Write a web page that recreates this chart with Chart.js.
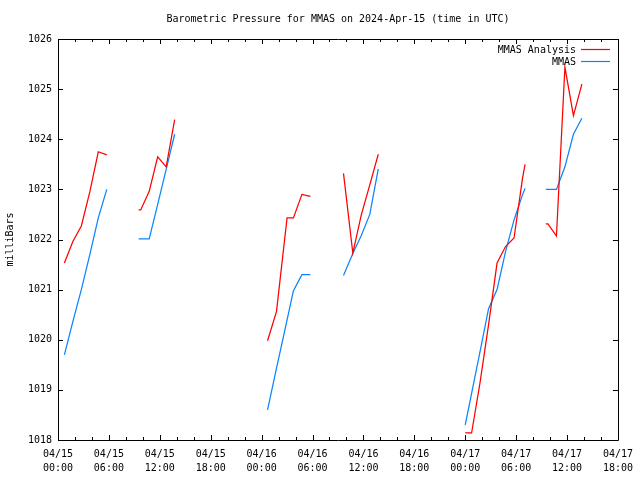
<!DOCTYPE html>
<html>
<head>
<meta charset="utf-8">
<script src="https://cdn.jsdelivr.net/npm/chart.js@4.4.1/dist/chart.umd.min.js"></script>
<style>
  body { margin: 0; background: #fff; }
  #wrap { width: 640px; height: 480px; }
</style>
</head>
<body>
<div id="wrap"><canvas id="chart" width="640" height="480"></canvas></div>
<script>
// labels
const chartTitle = 'Barometric Pressure for MMAS on 2024-Apr-15 (time in UTC)';
const yTitle = 'milliBars';
const tickDays = ['04/15', '04/15', '04/15', '04/15', '04/16', '04/16', '04/16', '04/16', '04/17', '04/17', '04/17', '04/17'];
const tickTimes = ['00:00', '06:00', '12:00', '18:00', '00:00', '06:00', '12:00', '18:00', '00:00', '06:00', '12:00', '18:00'];

// hours since 04/15 00:00 UTC, null value = gap in the record
const analysisHours = [0.75, 1.75, 2.75, 3.75, 4.75, 5.75, 7,
    9.5, 9.75, 10.75, 11.75, 12.75, 13.75, 20,
    24.7, 25.75, 27.0, 27.75, 28.75, 29.75, 32,
    33.65, 34.75, 35.75, 36.75, 37.75, 45,
    48.0, 48.75, 49.75, 50.75, 51.75, 52.75, 53.75, 54.75, 55.05, 56,
    57.5, 57.75, 58.75, 59.75, 60.75, 61.75];
const analysisValues = [1021.53, 1021.96, 1022.27, 1022.95, 1023.75, 1023.69, null,
    1022.59, 1022.59, 1022.96, 1023.65, 1023.45, 1024.39, null,
    1019.98, 1020.56, 1022.43, 1022.43, 1022.90, 1022.86, null,
    1023.32, 1021.73, 1022.49, 1023.09, 1023.70, null,
    1018.14, 1018.14, 1019.15, 1020.30, 1021.53, 1021.86, 1022.03, 1023.22, 1023.50, null,
    1022.31, 1022.31, 1022.07, 1025.44, 1024.47, 1025.10];

const stationHours = [0.75, 1.75, 2.75, 3.75, 4.75, 5.75, 7,
    9.5, 9.75, 10.75, 11.75, 12.75, 13.75, 20,
    24.7, 25.75, 26.75, 27.75, 28.75, 29.75, 32,
    33.65, 34.75, 35.75, 36.75, 37.75, 45,
    48.0, 48.75, 49.75, 50.75, 51.75, 52.75, 53.75, 54.75, 55.05, 56,
    57.5, 57.75, 58.75, 59.75, 60.75, 61.75];
const stationValues = [1019.70, 1020.36, 1021.00, 1021.70, 1022.43, 1023.00, null,
    1022.01, 1022.01, 1022.01, 1022.70, 1023.40, 1024.10, null,
    1018.60, 1019.43, 1020.20, 1020.98, 1021.30, 1021.30, null,
    1021.28, 1021.72, 1022.08, 1022.50, 1023.41, null,
    1018.30, 1018.93, 1019.77, 1020.62, 1021.00, 1021.76, 1022.39, 1022.89, 1023.02, null,
    1023.00, 1023.00, 1023.00, 1023.45, 1024.10, 1024.42];

const FONT = "'DejaVu Sans Mono', 'Liberation Mono', monospace";

function toPoints(hours, values) {
    return hours.map((h, i) => ({ x: h, y: values[i] }));
}

// gnuplot look: frame, inward ticks, centred title, legend at top right
const gnuplotDecor = {
    id: 'gnuplotDecor',
    afterDraw(chart) {
        const ctx = chart.ctx;
        const a = chart.chartArea;
        const xs = chart.scales.x;
        const ys = chart.scales.y;
        ctx.save();
        ctx.strokeStyle = '#000';
        ctx.lineWidth = 1;
        ctx.beginPath();
        ctx.rect(Math.round(a.left) + 0.5, Math.round(a.top) + 0.5,
            Math.round(a.right - a.left), Math.round(a.bottom - a.top));
        xs.ticks.forEach(t => {
            const px = Math.round(xs.getPixelForValue(t.value)) + 0.5;
            const len = t.value % 6 === 0 ? 5 : 3;
            ctx.moveTo(px, a.bottom);
            ctx.lineTo(px, a.bottom - len);
            ctx.moveTo(px, a.top);
            ctx.lineTo(px, a.top + len);
        });
        ys.ticks.forEach(t => {
            const py = Math.round(ys.getPixelForValue(t.value)) + 0.5;
            ctx.moveTo(a.left, py);
            ctx.lineTo(a.left + 5, py);
            ctx.moveTo(a.right, py);
            ctx.lineTo(a.right - 5, py);
        });
        ctx.stroke();

        ctx.fillStyle = '#000';
        ctx.font = '10px ' + FONT;
        ctx.textBaseline = 'middle';
        ctx.textAlign = 'center';
        ctx.fillText(chartTitle, (a.left + a.right) / 2, 19);

        ctx.textAlign = 'right';
        ctx.lineWidth = 1.2;
        chart.data.datasets.forEach((ds, i) => {
            const y = 50 + i * 12;
            ctx.fillStyle = '#000';
            ctx.fillText(ds.label, 576, y);
            ctx.strokeStyle = ds.borderColor;
            ctx.beginPath();
            ctx.moveTo(581, Math.round(y) - 0.5);
            ctx.lineTo(610, Math.round(y) - 0.5);
            ctx.stroke();
        });
        ctx.restore();
    }
};

const ctx = document.getElementById('chart').getContext('2d');
const chart = new Chart(ctx, {
    type: 'line',
    data: {
        datasets: [{
            label: 'MMAS Analysis',
            data: toPoints(analysisHours, analysisValues),
            borderColor: '#ff0000',
            borderWidth: 1.25,
            pointRadius: 0,
            spanGaps: false
        }, {
            label: 'MMAS',
            data: toPoints(stationHours, stationValues),
            borderColor: '#0a84ff',
            borderWidth: 1.25,
            pointRadius: 0,
            spanGaps: false
        }]
    },
    options: {
        responsive: false,
        animation: false,
        layout: { padding: { left: 0, right: 19, top: 39, bottom: 0 } },
        plugins: {
            legend: { display: false },
            title: { display: false },
            tooltip: { enabled: false }
        },
        elements: { line: { tension: 0 } },
        scales: {
            x: {
                type: 'linear',
                min: 0,
                max: 66,
                grid: { display: false, drawTicks: false },
                border: { display: false },
                afterFit: scale => { scale.height = 40; },
                ticks: {
                    stepSize: 2,
                    autoSkip: false,
                    maxRotation: 0,
                    padding: 7,
                    color: '#000',
                    font: { family: FONT, size: 10, lineHeight: 1.4 },
                    callback: v => v % 6 === 0 ? [tickDays[v / 6], tickTimes[v / 6]] : ''
                }
            },
            y: {
                min: 1018,
                max: 1026,
                grid: { display: false, drawTicks: false },
                border: { display: false },
                afterFit: scale => { scale.width = 58; },
                title: {
                    display: true,
                    text: yTitle,
                    color: '#000',
                    font: { family: FONT, size: 10 }
                },
                ticks: {
                    stepSize: 1,
                    padding: 6,
                    color: '#000',
                    font: { family: FONT, size: 10 },
                    callback: v => String(v)
                }
            }
        }
    },
    plugins: [gnuplotDecor]
});
</script>
</body>
</html>
